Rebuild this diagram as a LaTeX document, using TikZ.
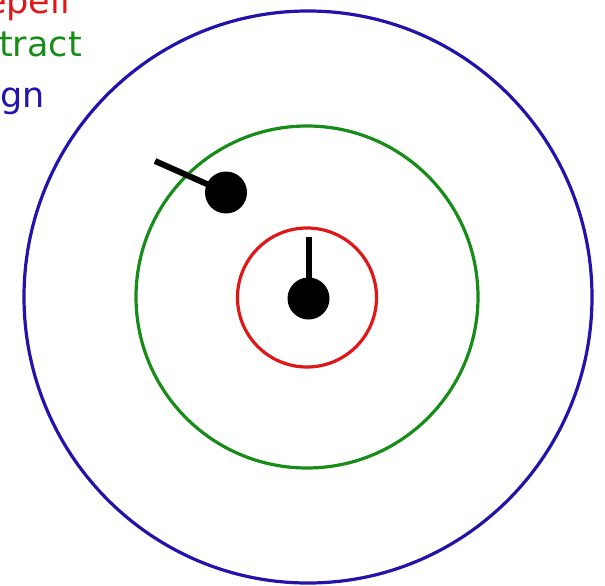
\documentclass[tikz,border=0pt]{standalone}
\usepackage{fontspec}
\newfontfamily\labelfont{DejaVu Sans}
\definecolor{zred}{RGB}{222,24,24}
\definecolor{zgreen}{RGB}{24,140,24}
\definecolor{zblue}{RGB}{34,20,170}
\begin{document}
\begin{tikzpicture}[x=1pt,y=-1pt,
  zone/.style={line width=3.2pt},
  lbl/.style={inner sep=0pt,font=\labelfont\fontsize{35}{35}\selectfont},
  agent/.style={circle,fill=black,minimum size=42pt,inner sep=0pt},
  heading/.style={line width=6pt}]
\useasboundingbox (0,0) rectangle (605,586);
\draw[zone,zblue] (308,297) ellipse [x radius=284, y radius=286];
\draw[zone,zgreen] (307,297) circle [radius=171];
\draw[zone,zred] (307,297.5) circle [radius=69.5];
\node[agent] (a1) at (308.5,298.5) {};
\coordinate (h1) at (308.5,237);
\draw[heading] (a1.center) -- (h1);
\node[agent] (a2) at (226,192.5) {};
\coordinate (h2) at (155,161);
\draw[heading] (a2.center) -- (h2);
\node[lbl,text=zred,anchor=base east] (t1) at (70,14) {epell};
\node[lbl,text=zgreen,anchor=base west] (t2) at (-1,57) {tract};
\node[lbl,text=zblue,anchor=base west] (t3) at (0,107) {gn};
\end{tikzpicture}
\end{document}
